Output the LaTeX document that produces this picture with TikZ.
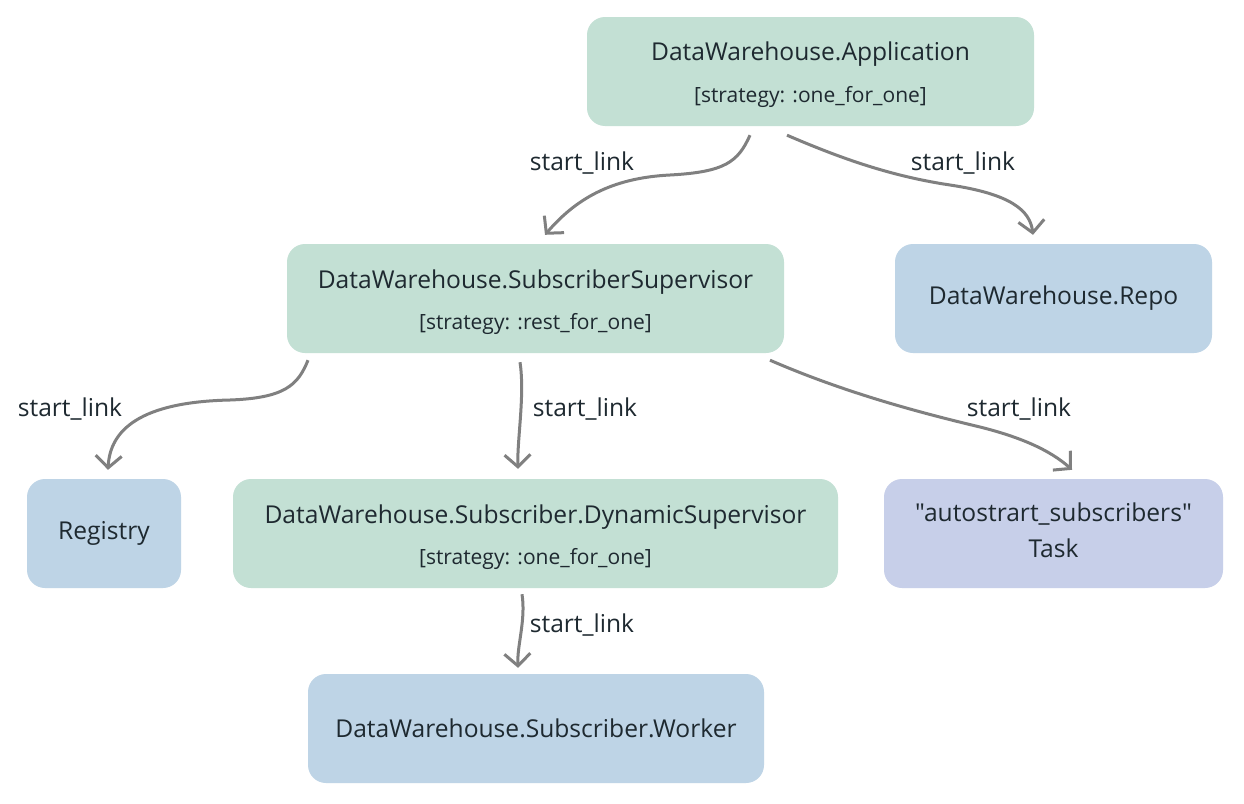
\documentclass[tikz,border=0pt]{standalone}
\usepackage{fontspec}
\setmainfont{Open Sans}[Ligatures=TeXOff]
\usetikzlibrary{arrows.meta}
\definecolor{gbox}{HTML}{C3E0D4}
\definecolor{bbox}{HTML}{BED4E6}
\definecolor{pbox}{HTML}{C7CFE9}
\definecolor{txt}{HTML}{1E2930}
\definecolor{arr}{HTML}{808080}
\newcommand{\bigf}{\fontsize{24.6}{35}\selectfont}
\newcommand{\smallf}{\fontsize{21}{25}\selectfont}
\begin{document}
\begin{tikzpicture}[x=1pt,y=-1pt,
  box/.style={rounded corners=18pt, inner sep=0pt, align=center, text=txt, font=\bigf},
  lbl/.style={anchor=base, inner sep=0pt, text=txt, font=\bigf},
  conn/.style={draw=arr, line width=3pt, -{Straight Barb[length=12pt,width=26pt]}}]
\useasboundingbox (0,0) rectangle (1244,803);
\fill[white] (0,0) rectangle (1244,803);
\node[box, fill=gbox, minimum width=447pt, minimum height=109pt] (app) at (810.5,71.5)
  {\rule{0pt}{26pt}DataWarehouse.Application\\[7pt]{\smallf\relax[strategy: :one\_for\_one]}};
\node[box, fill=gbox, minimum width=497pt, minimum height=109pt] (sub) at (535.5,298.5)
  {\rule{0pt}{26pt}DataWarehouse.SubscriberSupervisor\\[6pt]{\smallf\relax[strategy: :rest\_for\_one]}};
\node[box, fill=bbox, minimum width=317pt, minimum height=109pt] (repo) at (1053.5,298.5)
  {DataWarehouse.Repo};
\node[box, fill=bbox, minimum width=154pt, minimum height=109pt] (reg) at (104,533.5)
  {Registry};
\node[box, fill=gbox, minimum width=605pt, minimum height=109pt] (dyn) at (535.5,533.5)
  {\rule{0pt}{26pt}DataWarehouse.Subscriber.DynamicSupervisor\\[6pt]{\smallf\relax[strategy: :one\_for\_one]}};
\node[box, fill=pbox, minimum width=339pt, minimum height=109pt] (task) at (1053.5,533.5)
  {"autostrart\_subscribers"\\[1pt]Task\rule[-6pt]{0pt}{1pt}};
\node[box, fill=bbox, minimum width=456pt, minimum height=109pt] (work) at (536,728.5)
  {DataWarehouse.Subscriber.Worker};

\draw[conn] ([xshift=-60.5pt,yshift=-9pt]app.south) .. controls (738,162) and (725,172) .. (670,175)
  .. controls (610,178) and (575,200) .. ([xshift=9.5pt,yshift=9pt]sub.north);
\draw[conn] ([xshift=-23.5pt,yshift=-9pt]app.south) .. controls (840,158) and (890,176) .. (950,185)
  .. controls (1010,194) and (1030,210) .. ([xshift=-20.5pt,yshift=9pt]repo.north);
\draw[conn] ([xshift=-227.5pt,yshift=-7pt]sub.south) .. controls (298,385) and (285,398) .. (230,400)
  .. controls (140,402) and (110,430) .. ([xshift=4pt,yshift=9pt]reg.north);
\draw[conn] ([xshift=-15.5pt,yshift=-9pt]sub.south) .. controls (525,395) and (517,440) .. ([xshift=-17.5pt,yshift=10pt]dyn.north);
\draw[conn] ([xshift=234.5pt,yshift=-7pt]sub.south) .. controls (850,395) and (930,415) .. (980,427)
  .. controls (1020,437) and (1050,450) .. ([xshift=18.5pt,yshift=9pt]task.north);
\draw[conn] ([xshift=-13.5pt,yshift=-6pt]dyn.south) .. controls (526,620) and (517,645) .. ([xshift=-18pt,yshift=6pt]work.north);

\node[lbl] (l1) at (582,170) {start\_link};
\node[lbl] (l2) at (963,170) {start\_link};
\node[lbl] (l3) at (70,416) {start\_link};
\node[lbl] (l4) at (585,416) {start\_link};
\node[lbl] (l5) at (1019,416) {start\_link};
\node[lbl] (l6) at (582,632) {start\_link};
\end{tikzpicture}
\end{document}
